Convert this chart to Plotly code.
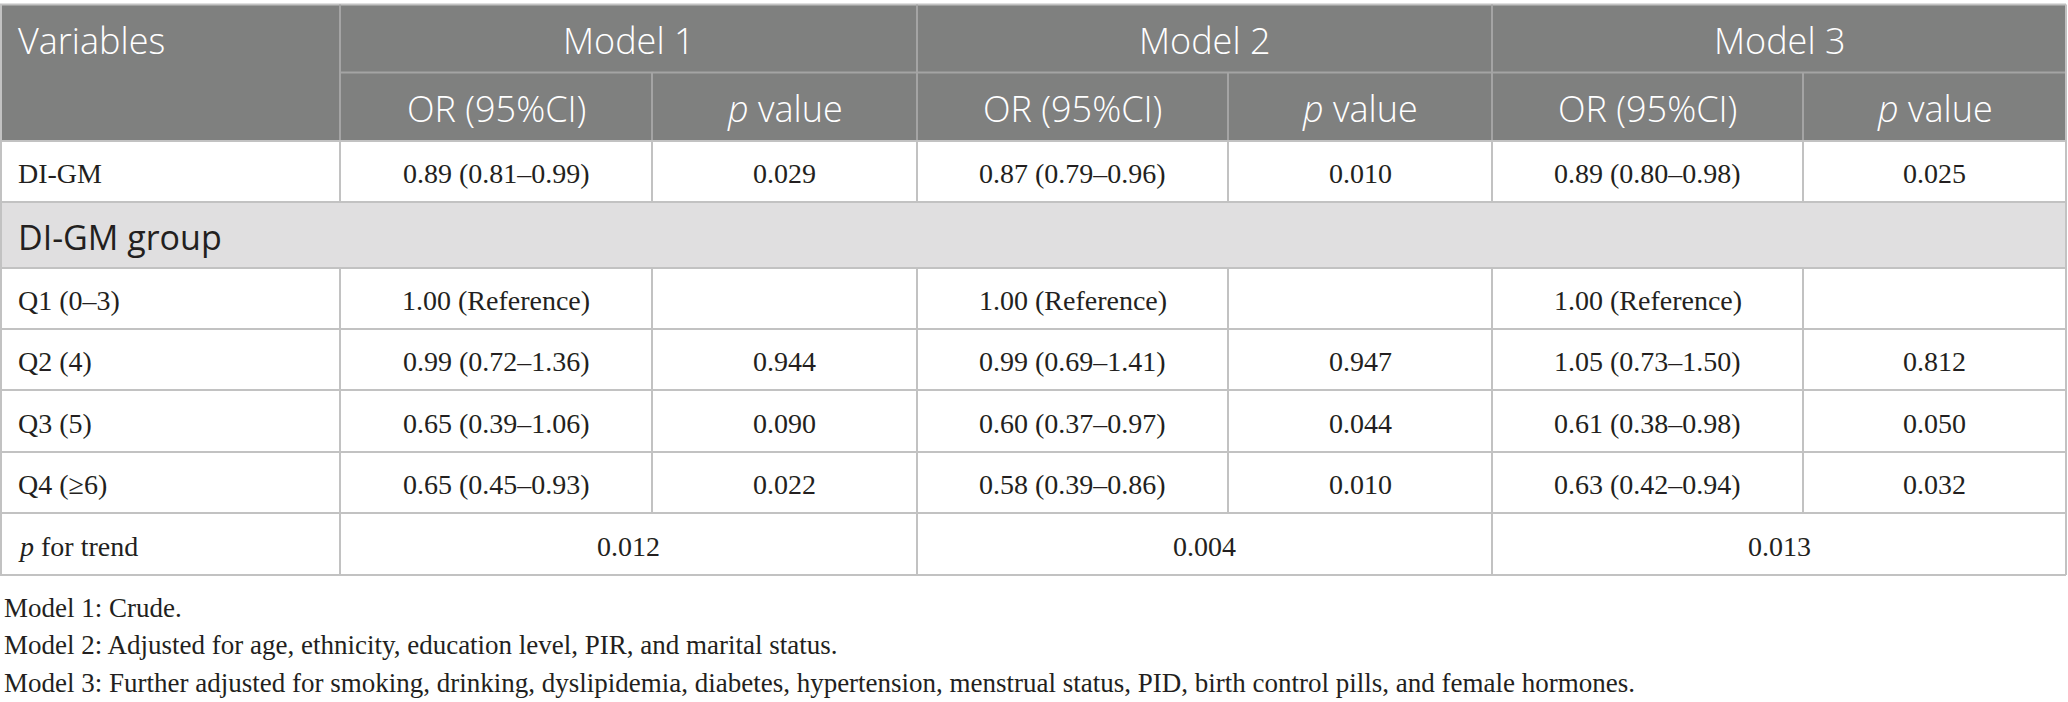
import plotly.graph_objects as go

# ---- table content ----
models = ["Model 1", "Model 2", "Model 3"]
sub_headers = ["OR (95%CI)", "<i>p</i> value"]
row_labels = ["DI-GM", "DI-GM group", "Q1 (0–3)", "Q2 (4)", "Q3 (5)", "Q4 (≥6)"]
trend_label = "<i>p</i> for trend"

or_model1 = ["0.89 (0.81–0.99)", "", "1.00 (Reference)", "0.99 (0.72–1.36)", "0.65 (0.39–1.06)", "0.65 (0.45–0.93)"]
p_model1 = ["0.029", "", "", "0.944", "0.090", "0.022"]
or_model2 = ["0.87 (0.79–0.96)", "", "1.00 (Reference)", "0.99 (0.69–1.41)", "0.60 (0.37–0.97)", "0.58 (0.39–0.86)"]
p_model2 = ["0.010", "", "", "0.947", "0.044", "0.010"]
or_model3 = ["0.89 (0.80–0.98)", "", "1.00 (Reference)", "1.05 (0.73–1.50)", "0.61 (0.38–0.98)", "0.63 (0.42–0.94)"]
p_model3 = ["0.025", "", "", "0.812", "0.050", "0.032"]
p_trend = ["0.012", "0.004", "0.013"]

footnotes = [
    "Model 1: Crude.",
    "Model 2: Adjusted for age, ethnicity, education level, PIR, and marital status.",
    "Model 3: Further adjusted for smoking, drinking, dyslipidemia, diabetes, hypertension, menstrual status, PID, birth control pills, and female hormones.",
]

# ---- geometry (pixels) ----
W, H = 2068, 702
col_x = [0, 340, 652, 917, 1228, 1492, 1803, 2066]
row_y = [4.5, 72.5, 141, 202, 268, 329, 390, 452, 513, 575]
foot_y = [606, 643, 681]

HEAD_BG = "#7f807f"
GROUP_BG = "#e0dfe0"
HEAD_LINE = "#a4a4a4"
BODY_LINE = "#c2c2c2"
INK = "#231f20"
SANS = "Open Sans"
SERIF = "Liberation Serif"

shapes = []
annots = []


def rect(x0, x1, y0, y1, color):
    shapes.append(dict(type="rect", xref="x", yref="y", x0=x0, x1=x1, y0=y0, y1=y1,
                       fillcolor=color, line=dict(width=0), layer="below"))


def hline(y, x0, x1, color):
    shapes.append(dict(type="line", xref="x", yref="y", x0=x0, x1=x1, y0=y, y1=y,
                       line=dict(color=color, width=2)))


def vline(x, y0, y1, color):
    shapes.append(dict(type="line", xref="x", yref="y", x0=x, x1=x, y0=y0, y1=y1,
                       line=dict(color=color, width=2)))


def text(x, y, s, font, size, color=INK, align="center", weight=400):
    annots.append(dict(xref="x", yref="y", x=x, y=y, text=s, showarrow=False,
                       xanchor=align, yanchor="middle",
                       font=dict(family=font, size=size, color=color, weight=weight)))


def mid(a, b):
    return (a + b) / 2


# backgrounds
rect(col_x[0], col_x[-1], row_y[0], row_y[2], HEAD_BG)
rect(col_x[0], col_x[-1], row_y[3], row_y[4], GROUP_BG)

# header grid
hline(row_y[0], col_x[0], col_x[-1], BODY_LINE)
hline(row_y[1], col_x[1], col_x[-1], HEAD_LINE)
for x in (col_x[1], col_x[3], col_x[5]):
    vline(x, row_y[0], row_y[2], HEAD_LINE)
for x in (col_x[2], col_x[4], col_x[6]):
    vline(x, row_y[1], row_y[2], HEAD_LINE)

# body grid
for y in row_y[2:]:
    hline(y, col_x[0], col_x[-1], BODY_LINE)
vline(col_x[0] + 1, row_y[0], row_y[-1], BODY_LINE)
vline(col_x[-1], row_y[0], row_y[-1], BODY_LINE)
body_rows = [0, 2, 3, 4, 5]
for r in body_rows:
    for x in col_x[1:-1]:
        vline(x, row_y[r + 2], row_y[r + 3], BODY_LINE)
for x in (col_x[1], col_x[3], col_x[5]):
    vline(x, row_y[8], row_y[9], BODY_LINE)

# header text
text(16, mid(row_y[0], row_y[1]) + 2, "Variables", SANS, 36, "white", "left", 300)
for i, m in enumerate(models):
    text(mid(col_x[1 + 2 * i], col_x[3 + 2 * i]), mid(row_y[0], row_y[1]) + 2, m, SANS, 36, "white", weight=300)
    for j, s in enumerate(sub_headers):
        text(mid(col_x[1 + 2 * i + j], col_x[2 + 2 * i + j]), mid(row_y[1], row_y[2]) + 2, s, SANS, 36, "white", weight=300)

# body text
or_cols = [or_model1, or_model2, or_model3]
p_cols = [p_model1, p_model2, p_model3]
for r, lab in enumerate(row_labels):
    yc = mid(row_y[r + 2], row_y[r + 3]) + 2
    if r == 1:
        text(16, yc, lab, SANS, 34, INK, "left")
        continue
    text(16, yc, lab, SERIF, 28, INK, "left")
    for i in range(3):
        text(mid(col_x[1 + 2 * i], col_x[2 + 2 * i]), yc, or_cols[i][r], SERIF, 28)
        text(mid(col_x[2 + 2 * i], col_x[3 + 2 * i]), yc, p_cols[i][r], SERIF, 28)

yc = mid(row_y[8], row_y[9]) + 2
text(16, yc, trend_label, SERIF, 28, INK, "left")
for i, v in enumerate(p_trend):
    text(mid(col_x[1 + 2 * i], col_x[3 + 2 * i]), yc, v, SERIF, 28)

# footnotes
for y, s in zip(foot_y, footnotes):
    text(2, y + 2, s, SERIF, 27, INK, "left")

fig = go.Figure(go.Scatter(x=[], y=[], mode="markers", showlegend=False))
fig.update_layout(
    width=W, height=H,
    margin=dict(l=0, r=0, t=0, b=0),
    plot_bgcolor="white", paper_bgcolor="white",
    xaxis=dict(range=[0, W], visible=False, fixedrange=True),
    yaxis=dict(range=[H, 0], visible=False, fixedrange=True),
    shapes=shapes, annotations=annots,
    showlegend=False,
)
fig.write_html("out.html", config={"displayModeBar": False},
               post_script="document.body.style.margin='0';document.body.style.overflow='hidden';")
